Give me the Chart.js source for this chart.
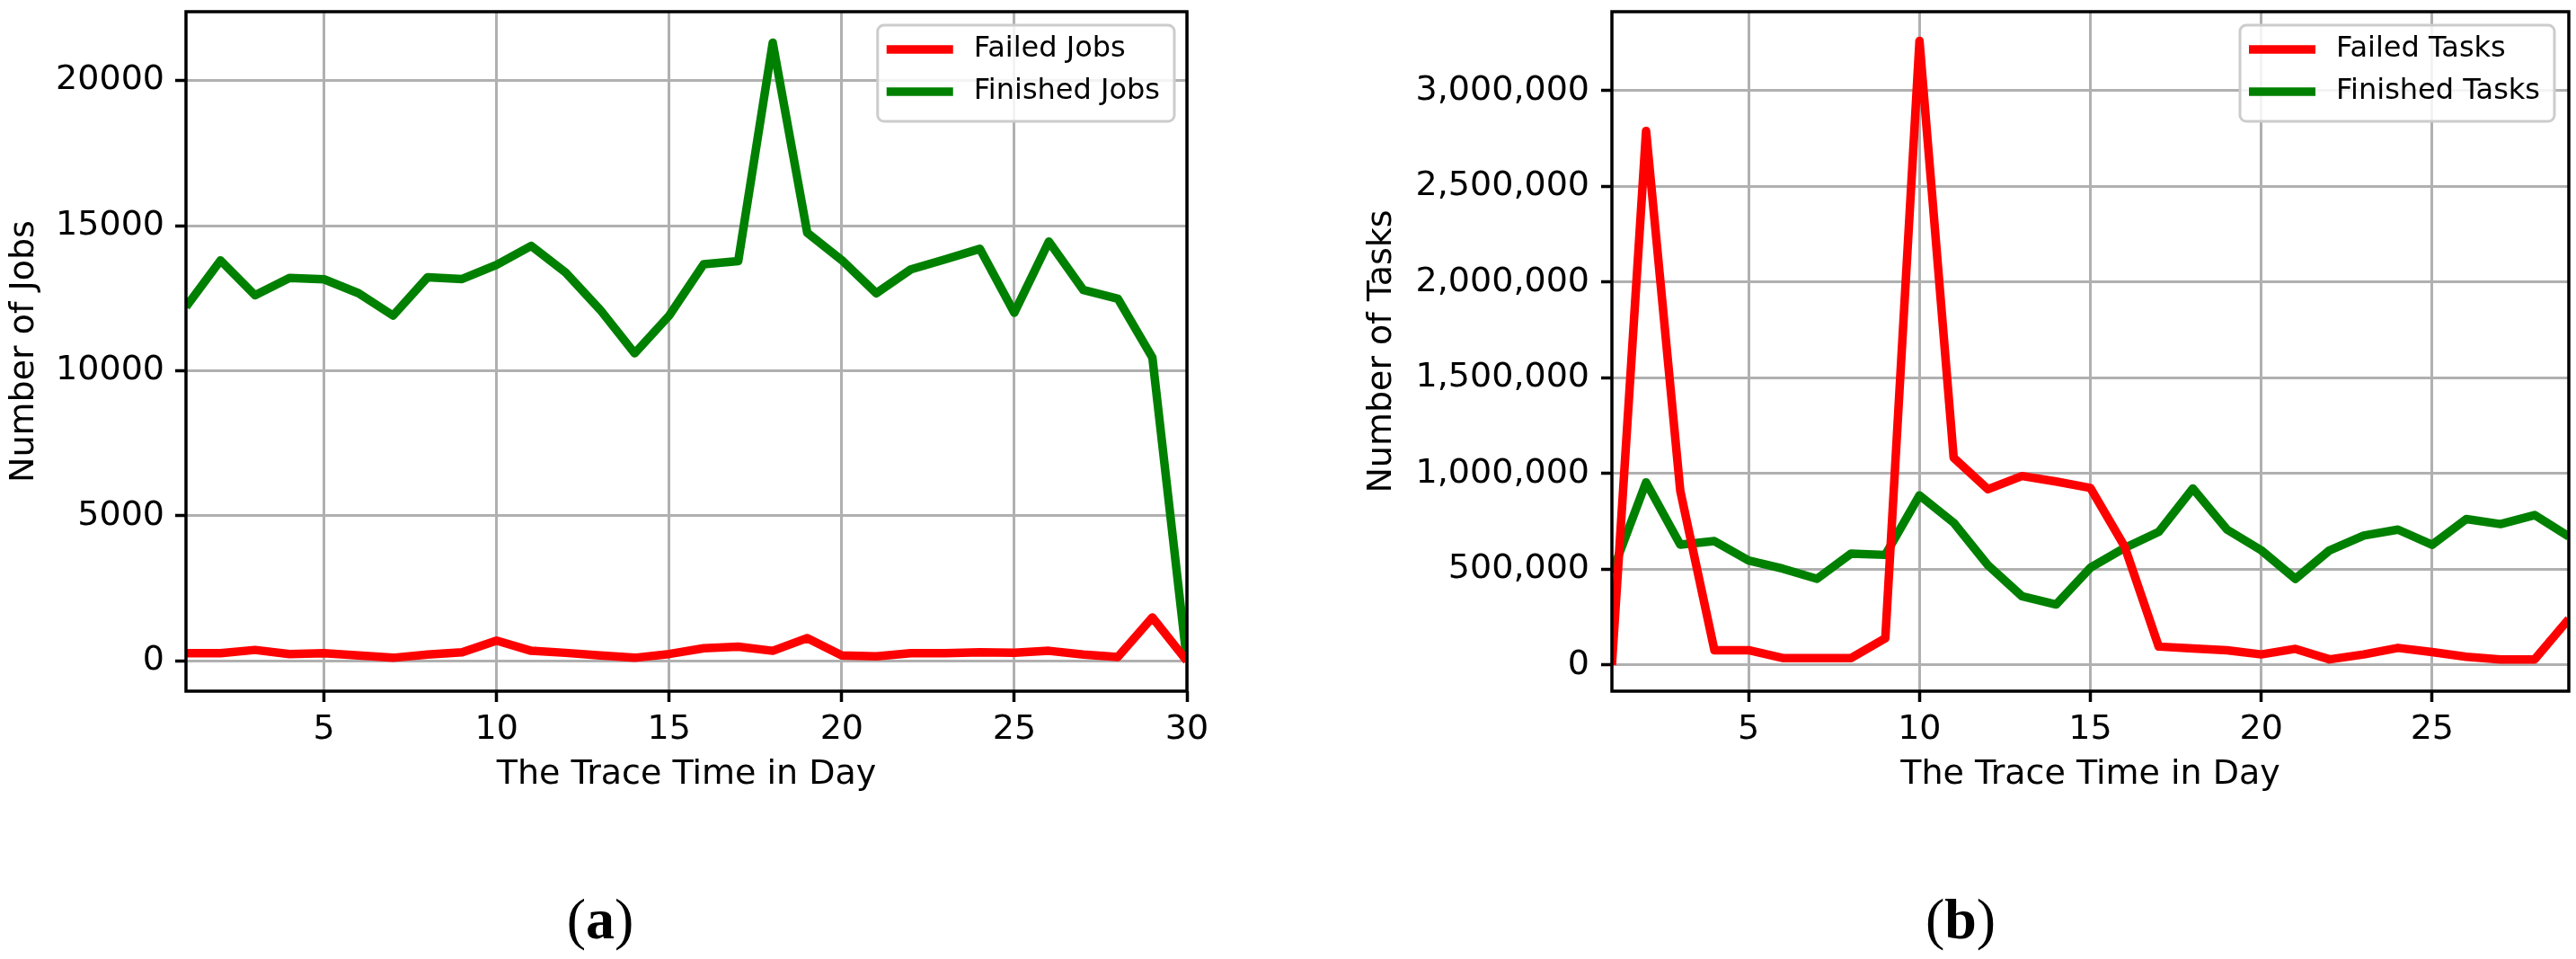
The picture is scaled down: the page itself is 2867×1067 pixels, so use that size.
<!DOCTYPE html>
<html>
<head>
<meta charset="utf-8">
<title>Failed and finished jobs / tasks per day</title>
<script src="https://cdn.jsdelivr.net/npm/chart.js@4.4.1/dist/chart.umd.min.js"></script>
<style>
html,body{margin:0;padding:0;background:#fff;}
body{width:2867px;height:1067px;position:relative;overflow:hidden;}
canvas{position:absolute;top:0;}
#jobsChart{left:0;}
#tasksChart{left:1511px;}
.sub{position:absolute;top:985px;font-family:"Liberation Serif","DejaVu Serif",serif;font-size:64px;line-height:76px;transform:translateX(-50%);color:#000;}
</style>
</head>
<body>
<canvas id="jobsChart" width="1400" height="900"></canvas>
<canvas id="tasksChart" width="1356" height="900"></canvas>
<div class="sub" style="left:668px">(<b>a</b>)</div>
<div class="sub" style="left:2182px">(<b>b</b>)</div>
<script>
// ========== Data ==========
const jobDays = [1,2,3,4,5,6,7,8,9,10,11,12,13,14,15,16,17,18,19,20,21,22,23,24,25,26,27,28,29,30];
const failedJobs = [270,270,380,240,270,190,110,220,300,700,350,280,190,110,240,440,490,350,790,190,160,270,270,300,285,350,220,140,1500,0];
const finishedJobs = [12200,13800,12600,13200,13150,12670,11900,13220,13160,13650,14300,13380,12100,10600,11900,13670,13780,21300,14750,13810,12670,13490,13840,14200,12000,14450,12780,12480,10450,0];

const taskDays = [1,2,3,4,5,6,7,8,9,10,11,12,13,14,15,16,17,18,19,20,21,22,23,24,25,26,27,28,29];
const failedTasks = [0,2790000,910000,77000,77000,36000,36000,36000,139000,3260000,1083000,918000,987000,958000,925000,620000,96000,86000,77000,55000,84000,29000,55000,89000,67000,43000,29000,29000,240000];
const finishedTasks = [480000,954000,628000,647000,546000,503000,450000,582000,575000,886000,743000,522000,359000,316000,508000,611000,695000,922000,707000,599000,450000,599000,676000,707000,628000,762000,736000,783000,671000];

const jobXTicks = [5,10,15,20,25,30];
const taskXTicks = [5,10,15,20,25];
const jobYTicks = [0,5000,10000,15000,20000];
const taskYTicks = [0,500000,1000000,1500000,2000000,2500000,3000000];

const RED = '#ff0000';
const GREEN = '#008000';
const GRID = '#b0b0b0';
const FONT = 'DejaVu Sans';

Chart.defaults.font.family = FONT;
Chart.defaults.color = '#000';

function toPoints(xs, ys){
  return xs.map((x,i)=>({x, y: ys[i]}));
}

// ========== Plugins ==========
// black frame round the plot area, drawn over the lines
const spinePlugin = {
  id:'spines',
  afterDatasetsDraw(chart){
    const {ctx, chartArea:a} = chart;
    ctx.save();
    ctx.strokeStyle = '#000';
    ctx.lineWidth = 3.5;
    ctx.strokeRect(a.left, a.top, a.right-a.left, a.bottom-a.top);
    ctx.restore();
  }
};

// legend box in the upper right corner of the plot
const boxLegend = {
  id:'boxLegend',
  afterDraw(chart, args, opts){
    const {ctx, chartArea} = chart;
    const sets = chart.data.datasets;
    ctx.save();
    ctx.font = '32px "' + FONT + '"';
    const textW = Math.max(...sets.map(d=>ctx.measureText(d.label).width));
    const w = 10 + 74 + 23 + textW + 16, h = 107;
    const x = chartArea.right - opts.right - w, y = chartArea.top + opts.top;
    ctx.beginPath();
    ctx.roundRect(x, y, w, h, 7);
    ctx.fillStyle = 'rgba(255,255,255,0.85)';
    ctx.fill();
    ctx.lineWidth = 3;
    ctx.strokeStyle = '#cccccc';
    ctx.stroke();
    sets.forEach((ds,i)=>{
      const cy = y + 27 + i*47;
      ctx.beginPath();
      ctx.moveTo(x+10, cy); ctx.lineTo(x+84, cy);
      ctx.strokeStyle = ds.borderColor;
      ctx.lineWidth = 9.5;
      ctx.stroke();
      ctx.fillStyle = '#000';
      ctx.textBaseline = 'middle';
      ctx.textAlign = 'left';
      ctx.fillText(ds.label, x+107, cy);
    });
    ctx.restore();
  }
};

// ========== Chart builder ==========
function makeChart(canvas, cfg){
  const tickFont = {size:38, family:FONT};
  return new Chart(canvas, {
    type:'line',
    data:{datasets:[
      {label:cfg.labels[0], data:toPoints(cfg.days, cfg.failed), borderColor:RED, backgroundColor:RED, fill:false, clip:0},
      {label:cfg.labels[1], data:toPoints(cfg.days, cfg.finished), borderColor:GREEN, backgroundColor:GREEN, fill:false, clip:0}
    ]},
    options:{
      responsive:false,
      animation:false,
      events:[],
      layout:{padding:{top:13, left:0, right:cfg.padRight, bottom:11}},
      elements:{
        point:{radius:0},
        line:{borderWidth:9.5, tension:0, borderJoinStyle:'round', borderCapStyle:'butt'}
      },
      plugins:{
        legend:{display:false},
        tooltip:{enabled:false},
        boxLegend:{right:cfg.legendRight, top:15}
      },
      scales:{
        x:{
          type:'linear', min:cfg.xMin, max:cfg.xMax,
          afterBuildTicks: s=>{ s.ticks = cfg.xTicks.map(v=>({value:v})); },
          afterFit: s=>{ s.height = 120; s.paddingLeft = 0; s.paddingRight = 0; },
          grid:{color:GRID, lineWidth:3, tickColor:'#000', tickWidth:3.5, tickLength:12},
          border:{display:false},
          ticks:{font:tickFont, color:'#000', padding:8, maxRotation:0, autoSkip:false},
          title:{display:true, text:'The Trace Time in Day', font:tickFont, color:'#000', padding:4}
        },
        y:{
          min:cfg.yMin, max:cfg.yMax,
          afterBuildTicks: s=>{ s.ticks = cfg.yTicks.map(v=>({value:v})); },
          afterFit: s=>{ s.width = cfg.yWidth; s.paddingTop = 0; s.paddingBottom = 0; },
          grid:{color:GRID, lineWidth:3, tickColor:'#000', tickWidth:3.5, tickLength:12},
          border:{display:false},
          ticks:{font:tickFont, color:'#000', padding:cfg.yPad, autoSkip:false, callback:cfg.fmt},
          title:{display:true, text:cfg.yTitle, font:tickFont, color:'#000', padding:4}
        }
      }
    },
    plugins:[spinePlugin, boxLegend]
  });
}

// ========== Init ==========
makeChart(document.getElementById('jobsChart'), {
  labels:['Failed Jobs','Finished Jobs'],
  days:jobDays, failed:failedJobs, finished:finishedJobs,
  xMin:1, xMax:30, xTicks:jobXTicks,
  yMin:-1040, yMax:22370, yTicks:jobYTicks,
  yTitle:'Number of Jobs', yWidth:207, yPad:12, padRight:79, legendRight:14,
  fmt: v=>String(v)
});

makeChart(document.getElementById('tasksChart'), {
  labels:['Failed Tasks','Finished Tasks'],
  days:taskDays, failed:failedTasks, finished:finishedTasks,
  xMin:1, xMax:29, xTicks:taskXTicks,
  yMin:-137000, yMax:3413000, yTicks:taskYTicks,
  yTitle:'Number of Tasks', yWidth:283, yPad:13, padRight:8, legendRight:16,
  fmt: v=>Number(v).toLocaleString('en-US')
});
</script>
</body>
</html>
